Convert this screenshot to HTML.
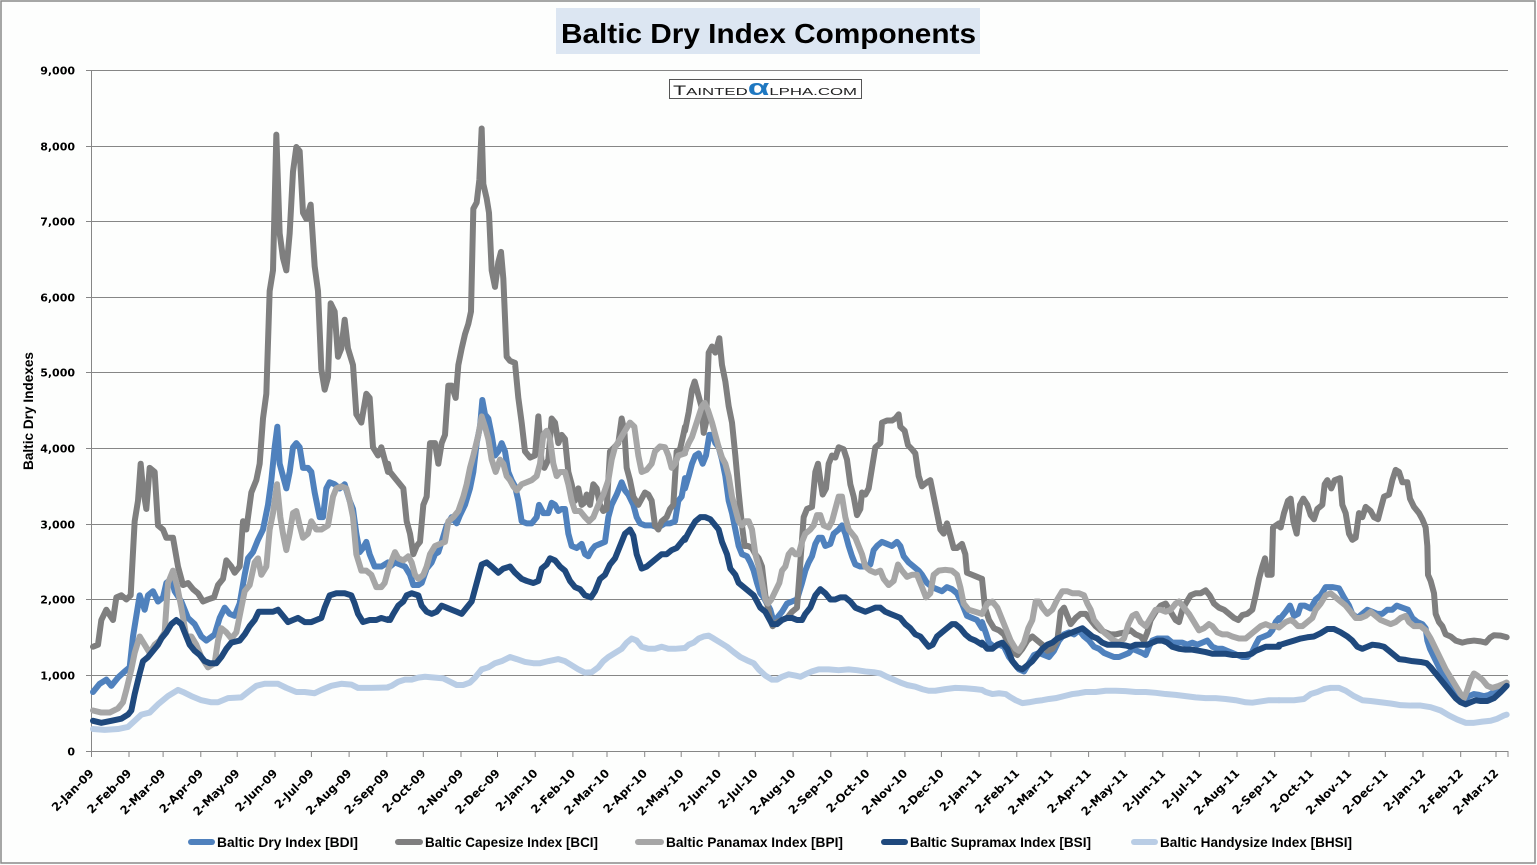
<!DOCTYPE html>
<html>
<head>
<meta charset="utf-8">
<style>
html,body{margin:0;padding:0;background:#fff;}
svg{display:block;}
.tk{font-family:"DejaVu Sans",sans-serif;font-weight:bold;font-size:11.5px;fill:#000;}
.yl{font-family:"DejaVu Sans",sans-serif;font-weight:bold;font-size:11px;fill:#000;}
.lg{font-family:"Liberation Sans",sans-serif;font-weight:bold;font-size:14px;fill:#000;}
.s polyline{fill:none;stroke-width:6;stroke-linejoin:round;stroke-linecap:round;vector-effect:non-scaling-stroke;}
</style>
</head>
<body>
<svg width="1537" height="865" viewBox="0 0 1537 865" xmlns="http://www.w3.org/2000/svg">
<rect x="0" y="0" width="1537" height="865" fill="#fdfefd"/>
<rect x="1" y="1" width="1534" height="862" fill="none" stroke="#8a8a8a" stroke-width="1.5"/>

<!-- Title -->
<rect x="556" y="8" width="424" height="46" fill="#dce6f2"/>
<text x="561" y="43" font-family="Liberation Sans, sans-serif" font-weight="bold" font-size="28" textLength="415" lengthAdjust="spacingAndGlyphs" fill="#000">Baltic Dry Index Components</text>

<!-- gridlines -->
<g stroke="#868686" stroke-width="1">
<line x1="91" y1="70.5" x2="1508" y2="70.5"/>
<line x1="91" y1="146.5" x2="1508" y2="146.5"/>
<line x1="91" y1="221.5" x2="1508" y2="221.5"/>
<line x1="91" y1="297.5" x2="1508" y2="297.5"/>
<line x1="91" y1="372.5" x2="1508" y2="372.5"/>
<line x1="91" y1="448.5" x2="1508" y2="448.5"/>
<line x1="91" y1="524.5" x2="1508" y2="524.5"/>
<line x1="91" y1="599.5" x2="1508" y2="599.5"/>
<line x1="91" y1="675.5" x2="1508" y2="675.5"/>
<line x1="91" y1="751.5" x2="1508" y2="751.5"/>
<line x1="91.5" y1="70" x2="91.5" y2="752"/>
<line x1="86" y1="70.5" x2="91" y2="70.5"/>
<line x1="86" y1="146.5" x2="91" y2="146.5"/>
<line x1="86" y1="221.5" x2="91" y2="221.5"/>
<line x1="86" y1="297.5" x2="91" y2="297.5"/>
<line x1="86" y1="372.5" x2="91" y2="372.5"/>
<line x1="86" y1="448.5" x2="91" y2="448.5"/>
<line x1="86" y1="524.5" x2="91" y2="524.5"/>
<line x1="86" y1="599.5" x2="91" y2="599.5"/>
<line x1="86" y1="675.5" x2="91" y2="675.5"/>
<line x1="86" y1="751.5" x2="91" y2="751.5"/>
</g>
<g stroke="#868686" stroke-width="1">
<line x1="91.5" y1="751" x2="91.5" y2="757"/>
<line x1="129" y1="751" x2="129" y2="757"/>
<line x1="163.1" y1="751" x2="163.1" y2="757"/>
<line x1="200.8" y1="751" x2="200.8" y2="757"/>
<line x1="237.2" y1="751" x2="237.2" y2="757"/>
<line x1="275" y1="751" x2="275" y2="757"/>
<line x1="311.4" y1="751" x2="311.4" y2="757"/>
<line x1="349.1" y1="751" x2="349.1" y2="757"/>
<line x1="386.8" y1="751" x2="386.8" y2="757"/>
<line x1="423.3" y1="751" x2="423.3" y2="757"/>
<line x1="461" y1="751" x2="461" y2="757"/>
<line x1="497.5" y1="751" x2="497.5" y2="757"/>
<line x1="535.2" y1="751" x2="535.2" y2="757"/>
<line x1="572.9" y1="751" x2="572.9" y2="757"/>
<line x1="607" y1="751" x2="607" y2="757"/>
<line x1="644.7" y1="751" x2="644.7" y2="757"/>
<line x1="681.2" y1="751" x2="681.2" y2="757"/>
<line x1="718.9" y1="751" x2="718.9" y2="757"/>
<line x1="755.3" y1="751" x2="755.3" y2="757"/>
<line x1="793.1" y1="751" x2="793.1" y2="757"/>
<line x1="830.8" y1="751" x2="830.8" y2="757"/>
<line x1="867.2" y1="751" x2="867.2" y2="757"/>
<line x1="904.9" y1="751" x2="904.9" y2="757"/>
<line x1="941.4" y1="751" x2="941.4" y2="757"/>
<line x1="979.1" y1="751" x2="979.1" y2="757"/>
<line x1="1016.8" y1="751" x2="1016.8" y2="757"/>
<line x1="1050.9" y1="751" x2="1050.9" y2="757"/>
<line x1="1088.6" y1="751" x2="1088.6" y2="757"/>
<line x1="1125.1" y1="751" x2="1125.1" y2="757"/>
<line x1="1162.8" y1="751" x2="1162.8" y2="757"/>
<line x1="1199.3" y1="751" x2="1199.3" y2="757"/>
<line x1="1237" y1="751" x2="1237" y2="757"/>
<line x1="1274.7" y1="751" x2="1274.7" y2="757"/>
<line x1="1311.1" y1="751" x2="1311.1" y2="757"/>
<line x1="1348.9" y1="751" x2="1348.9" y2="757"/>
<line x1="1385.3" y1="751" x2="1385.3" y2="757"/>
<line x1="1423" y1="751" x2="1423" y2="757"/>
<line x1="1460.7" y1="751" x2="1460.7" y2="757"/>
<line x1="1496" y1="751" x2="1496" y2="757"/>
<line x1="1508" y1="751" x2="1508" y2="757"/>
</g>

<!-- y labels -->
<g class="yl" text-anchor="end">
<text x="75" y="74.5">9,000</text>
<text x="75" y="150.5">8,000</text>
<text x="75" y="225.5">7,000</text>
<text x="75" y="301.5">6,000</text>
<text x="75" y="376.5">5,000</text>
<text x="75" y="452.5">4,000</text>
<text x="75" y="528.5">3,000</text>
<text x="75" y="603.5">2,000</text>
<text x="75" y="679.5">1,000</text>
<text x="75" y="755.5">0</text>
</g>
<text transform="translate(33,470) rotate(-90)" font-family="Liberation Sans, sans-serif" font-weight="bold" font-size="14" textLength="118" lengthAdjust="spacingAndGlyphs" fill="#000">Baltic Dry Indexes</text>

<!-- x labels -->
<g class="tk" text-anchor="end">
<text transform="translate(94.5,774) rotate(-45)">2-Jan-09</text>
<text transform="translate(132.2,774) rotate(-45)">2-Feb-09</text>
<text transform="translate(166.3,774) rotate(-45)">2-Mar-09</text>
<text transform="translate(204,774) rotate(-45)">2-Apr-09</text>
<text transform="translate(240.4,774) rotate(-45)">2-May-09</text>
<text transform="translate(278.2,774) rotate(-45)">2-Jun-09</text>
<text transform="translate(314.6,774) rotate(-45)">2-Jul-09</text>
<text transform="translate(352.3,774) rotate(-45)">2-Aug-09</text>
<text transform="translate(390,774) rotate(-45)">2-Sep-09</text>
<text transform="translate(426.5,774) rotate(-45)">2-Oct-09</text>
<text transform="translate(464.2,774) rotate(-45)">2-Nov-09</text>
<text transform="translate(500.7,774) rotate(-45)">2-Dec-09</text>
<text transform="translate(538.4,774) rotate(-45)">2-Jan-10</text>
<text transform="translate(576.1,774) rotate(-45)">2-Feb-10</text>
<text transform="translate(610.2,774) rotate(-45)">2-Mar-10</text>
<text transform="translate(647.9,774) rotate(-45)">2-Apr-10</text>
<text transform="translate(684.4,774) rotate(-45)">2-May-10</text>
<text transform="translate(722.1,774) rotate(-45)">2-Jun-10</text>
<text transform="translate(758.5,774) rotate(-45)">2-Jul-10</text>
<text transform="translate(796.3,774) rotate(-45)">2-Aug-10</text>
<text transform="translate(834,774) rotate(-45)">2-Sep-10</text>
<text transform="translate(870.4,774) rotate(-45)">2-Oct-10</text>
<text transform="translate(908.1,774) rotate(-45)">2-Nov-10</text>
<text transform="translate(944.6,774) rotate(-45)">2-Dec-10</text>
<text transform="translate(982.3,774) rotate(-45)">2-Jan-11</text>
<text transform="translate(1020,774) rotate(-45)">2-Feb-11</text>
<text transform="translate(1054.1,774) rotate(-45)">2-Mar-11</text>
<text transform="translate(1091.8,774) rotate(-45)">2-Apr-11</text>
<text transform="translate(1128.3,774) rotate(-45)">2-May-11</text>
<text transform="translate(1166,774) rotate(-45)">2-Jun-11</text>
<text transform="translate(1202.5,774) rotate(-45)">2-Jul-11</text>
<text transform="translate(1240.2,774) rotate(-45)">2-Aug-11</text>
<text transform="translate(1277.9,774) rotate(-45)">2-Sep-11</text>
<text transform="translate(1314.3,774) rotate(-45)">2-Oct-11</text>
<text transform="translate(1352.1,774) rotate(-45)">2-Nov-11</text>
<text transform="translate(1388.5,774) rotate(-45)">2-Dec-11</text>
<text transform="translate(1426.2,774) rotate(-45)">2-Jan-12</text>
<text transform="translate(1463.9,774) rotate(-45)">2-Feb-12</text>
<text transform="translate(1499.2,774) rotate(-45)">2-Mar-12</text>
</g>

<!-- watermark -->
<rect x="669.5" y="79.5" width="192" height="19" fill="#fff" stroke="#555" stroke-width="1"/>
<text x="673" y="95" font-family="Liberation Sans, sans-serif" fill="#222" textLength="184" lengthAdjust="spacingAndGlyphs"><tspan font-size="13.5">T</tspan><tspan font-size="10.5">AINTED</tspan><tspan font-size="22" font-weight="bold" fill="#1f78c1">α</tspan><tspan font-size="10.5">LPHA.COM</tspan></text>

<!-- BDI -->
<g class="s" stroke="#4f81bd">
<g transform="translate(88,110) scale(0.33333,0.4113)"><polyline points="15,1415 35,1395 55,1385 70,1400 90,1380 110,1365 125,1355 135,1280 145,1230 155,1180 170,1215 180,1180 195,1170 210,1195 225,1185 235,1150 250,1140 260,1170 280,1195 300,1235 320,1250 340,1280 355,1290 380,1275 395,1235 410,1210 425,1225 440,1230 455,1200 470,1130 480,1090 495,1075 510,1045 525,1020 540,960 550,900 560,820 568,770 575,860 585,890 595,920 605,880 615,820 625,810 635,820 645,870 660,870 670,880 680,930 695,990 705,990 715,920 725,905 740,910 755,920 770,910 785,950 795,970 805,1030 815,1075 825,1065 835,1050 845,1080 860,1110 880,1110 900,1100"/></g>
<g transform="translate(385,110) scale(0.33333,0.4113)"><polyline points="9,1105 15,1110 30,1100 45,1105 60,1110 75,1130 85,1155 100,1155 110,1150 125,1115 140,1100 150,1080 160,1075 170,1050 185,1010 200,990 215,1005 225,985 240,960 255,920 265,880 275,810 285,770 292,705 300,740 310,750 320,790 330,840 340,830 350,810 360,830 370,880 380,900 390,915 400,950 410,1000 425,1005 440,1005 455,990 462,960 475,980 490,980 500,955 510,960 520,975 530,970 540,970 550,1030 560,1060 575,1065 590,1055 600,1080 610,1085 620,1070 630,1060 645,1055 660,1050 670,990 680,960 695,935 710,905 720,925 730,935 745,960 755,990 765,1005 780,1010 800,1010 820,1015 840,1005 855,1005 870,1000 880,950 890,940 900,895"/></g>
<g transform="translate(682,110) scale(0.33333,0.4113)"><polyline points="9,920 20,890 30,860 40,840 50,835 62,860 72,840 82,790 92,790 100,810 110,820 120,850 130,890 140,950 150,980 160,1020 170,1060 180,1080 195,1085 205,1100 215,1120 225,1150 235,1175 245,1185 255,1200 265,1215 275,1245 285,1235 300,1220 315,1200 330,1195 345,1190 360,1150 370,1120 380,1100 390,1085 400,1055 410,1040 420,1040 430,1060 445,1055 455,1030 470,1020 480,1010 490,1030 500,1060 510,1085 520,1105 535,1110 550,1110 565,1105 575,1070 585,1060 600,1050 615,1055 630,1060 645,1050 655,1060 665,1085 680,1100 695,1110 710,1120 720,1130 735,1150 750,1160 765,1165 780,1170 795,1160 810,1165 825,1175 840,1200 855,1230 870,1235 885,1240 900,1260"/></g>
<g transform="translate(979,110) scale(0.33333,0.4113)"><polyline points="9,1245 20,1270 30,1295 45,1305 60,1300 75,1305 90,1330 105,1345 120,1360 135,1365 150,1345 165,1325 180,1320 195,1325 210,1330 225,1315 240,1290 255,1275 270,1270 285,1275 300,1265 315,1280 330,1290 345,1305 360,1310 375,1320 390,1325 405,1330 420,1330 435,1325 450,1320 460,1310 475,1315 490,1320 500,1325 510,1305 520,1290 535,1285 550,1285 565,1285 580,1295 595,1295 610,1295 625,1300 640,1295 655,1300 670,1295 685,1290 700,1305 715,1310 730,1310 745,1315 760,1320 775,1325 790,1330 805,1330 818,1320 830,1300 840,1285 855,1280 870,1275 880,1265 890,1245 900,1235"/></g>
<g transform="translate(1274,110) scale(0.33333,0.4113)"><polyline points="15,1240 20,1235 35,1220 48,1205 60,1230 72,1225 80,1205 92,1205 110,1212 125,1190 140,1180 155,1160 175,1160 195,1163 210,1185 225,1205 235,1225 250,1235 265,1225 280,1215 295,1220 310,1225 325,1225 340,1215 355,1215 368,1205 385,1210 402,1215 415,1235 430,1245 445,1250 455,1260 460,1290 468,1310 480,1330 495,1355 510,1380 525,1400 540,1420 555,1430 568,1435 585,1425 600,1420 615,1422 630,1425 645,1422 660,1415 680,1405 698,1398"/></g>
</g>

<!-- BCI -->
<g class="s" stroke="#7f7f7f">
<g transform="translate(88,110) scale(0.33333,0.4113)"><polyline points="15,1305 30,1300 40,1240 55,1215 75,1240 85,1185 100,1180 115,1190 128,1180 140,1000 150,950 158,860 165,920 175,970 185,870 200,880 210,1010 225,1020 235,1040 255,1040 270,1110 285,1155 300,1150 315,1165 330,1175 345,1195 360,1190 378,1185 390,1155 405,1140 415,1095 430,1110 440,1125 455,1110 465,1000 475,1020 490,930 505,900 515,860 525,750 535,690 545,440 555,390 565,60 575,300 585,360 595,390 605,300 615,150 625,90 635,100 645,250 655,265 668,230 680,380 690,440 700,630 710,680 720,650 728,470 740,490 750,600 760,580 770,510 780,580 795,620 805,740 820,760 835,690 845,700 855,820 870,840 880,820 900,880"/></g>
<g transform="translate(385,110) scale(0.33333,0.4113)"><polyline points="9,860 15,880 30,895 45,910 55,920 65,1000 75,1030 85,1080 95,1060 105,1050 115,960 125,940 135,810 150,810 160,860 170,810 180,790 190,670 200,670 212,700 220,620 230,580 240,545 250,520 258,490 265,240 275,225 283,170 290,45 295,180 305,215 312,250 320,390 330,430 340,370 348,345 355,410 365,600 375,610 390,615 400,700 410,760 420,830 435,845 450,840 460,745 470,860 478,870 490,850 500,750 510,760 520,810 530,790 540,800 550,880 560,910 570,950 580,920 590,960 598,955 605,935 615,960 625,910 635,920 645,960 655,975 665,970 675,830 688,820 700,810 710,750 718,780 725,870 735,900 745,940 760,960 770,945 780,930 790,935 800,950 810,1010 820,1020 830,1000 845,990 855,970 865,960 875,830 885,825 895,790 900,770"/></g>
<g transform="translate(682,110) scale(0.33333,0.4113)"><polyline points="9,780 20,735 30,680 38,660 48,690 58,720 65,785 72,760 80,590 90,575 100,590 112,555 120,620 130,660 140,720 150,760 160,840 170,930 180,1010 188,1060 198,1060 210,1065 220,1080 230,1090 240,1110 250,1180 258,1210 265,1240 272,1255 285,1245 300,1240 315,1235 330,1220 345,1210 355,1100 365,990 375,970 390,965 400,880 408,860 415,900 422,935 432,920 440,860 450,840 460,845 470,820 485,825 495,850 505,910 515,940 525,985 535,970 540,930 550,935 560,920 570,870 580,820 595,810 600,760 615,755 630,755 640,750 650,740 655,770 668,780 678,815 690,825 700,835 710,890 720,915 735,905 745,900 755,940 765,980 775,1020 785,1030 795,1005 805,1035 815,1065 825,1065 840,1055 850,1080 855,1125 870,1130 885,1135 900,1140"/></g>
<g transform="translate(979,110) scale(0.33333,0.4113)"><polyline points="9,1140 18,1210 30,1240 45,1260 60,1265 75,1275 90,1300 105,1320 115,1325 130,1310 145,1290 160,1280 175,1290 190,1300 205,1315 220,1310 235,1290 245,1220 255,1210 265,1230 275,1250 290,1235 305,1225 320,1225 335,1240 350,1255 365,1265 380,1270 395,1275 410,1275 425,1272 440,1270 455,1265 470,1275 485,1280 495,1290 505,1270 515,1240 530,1220 545,1205 560,1200 575,1220 590,1240 600,1245 610,1215 620,1200 635,1180 650,1175 665,1175 680,1168 692,1180 705,1200 720,1210 735,1215 750,1225 765,1235 778,1240 790,1228 805,1225 820,1215 830,1180 840,1140 850,1110 858,1090 866,1130 878,1130 882,1015 900,1005"/></g>
<g transform="translate(1274,110) scale(0.33333,0.4113)"><polyline points="15,1012 20,1015 30,980 42,950 50,945 58,1000 68,1030 78,960 88,945 100,960 110,985 120,995 130,970 145,960 152,910 160,900 172,920 182,900 198,895 205,960 215,980 225,1030 235,1045 245,1040 255,980 265,990 275,965 290,975 300,990 312,995 320,970 330,940 345,935 355,900 365,875 375,880 385,905 400,905 408,945 420,965 435,980 445,995 455,1015 460,1060 462,1130 470,1145 480,1175 485,1225 495,1245 505,1255 515,1275 530,1280 545,1290 565,1295 580,1292 600,1290 620,1292 635,1295 648,1283 660,1277 680,1278 698,1282"/></g>
</g>

<!-- BPI -->
<g class="s" stroke="#a6a6a6">
<g transform="translate(88,110) scale(0.33333,0.4113)"><polyline points="15,1460 40,1465 65,1465 90,1455 105,1440 115,1410 130,1360 140,1320 155,1280 170,1300 185,1320 200,1300 215,1290 230,1270 240,1150 255,1120 268,1160 280,1210 295,1280 310,1280 325,1300 340,1330 360,1355 380,1345 390,1290 400,1260 415,1270 430,1285 445,1270 460,1210 470,1170 485,1155 500,1100 510,1090 520,1130 535,1110 545,1020 555,980 567,910 577,990 585,1030 595,1070 605,1030 615,980 625,975 635,1010 645,1040 660,1030 670,1000 685,1020 700,1020 720,1010 735,940 745,920 760,915 775,920 785,950 795,990 805,1080 820,1120 835,1120 850,1130 865,1160 880,1160 890,1150 900,1120"/></g>
<g transform="translate(385,110) scale(0.33333,0.4113)"><polyline points="9,1120 20,1095 30,1075 40,1090 55,1095 70,1085 80,1100 90,1130 100,1140 115,1130 125,1110 135,1080 150,1060 165,1055 180,1050 190,1000 205,990 220,975 235,940 245,910 255,870 265,840 280,790 290,745 300,770 310,800 320,850 332,880 345,850 355,860 365,890 375,900 385,915 395,925 410,910 425,905 440,900 455,890 465,860 475,790 485,780 495,800 505,860 515,890 525,880 540,880 550,910 560,950 570,975 585,975 600,990 612,1000 625,990 640,960 655,935 670,900 680,850 690,820 705,800 720,780 735,760 748,770 760,840 770,880 785,875 800,860 810,830 825,818 840,820 850,840 860,870 870,860 880,840 900,835"/></g>
<g transform="translate(682,110) scale(0.33333,0.4113)"><polyline points="9,832 20,810 30,795 40,770 50,745 60,720 68,712 78,730 90,760 100,790 110,820 120,845 130,860 140,890 150,940 160,970 170,1000 180,1010 190,1000 200,1000 210,1020 220,1080 230,1110 240,1150 250,1190 258,1200 268,1190 280,1170 292,1150 300,1120 310,1110 320,1080 330,1070 340,1080 350,1080 360,1050 370,1030 385,1020 395,1010 405,985 415,985 425,1010 440,1015 450,1000 460,970 470,940 480,940 490,990 500,1020 510,1030 520,1040 530,1060 540,1080 550,1110 565,1120 580,1125 595,1120 605,1140 620,1155 635,1145 648,1105 660,1120 675,1135 690,1130 705,1130 720,1160 732,1185 745,1175 755,1130 770,1120 790,1118 810,1120 825,1130 835,1160 845,1200 860,1215 880,1220 900,1225"/></g>
<g transform="translate(979,110) scale(0.33333,0.4113)"><polyline points="9,1225 25,1200 40,1195 55,1210 65,1230 75,1250 85,1270 95,1290 110,1310 120,1315 135,1295 148,1260 160,1240 170,1195 180,1195 190,1210 205,1225 220,1215 235,1190 250,1170 265,1170 280,1175 300,1175 315,1180 325,1200 335,1215 345,1240 360,1255 375,1270 390,1280 405,1290 420,1295 435,1285 448,1250 460,1230 472,1225 485,1245 500,1255 515,1235 530,1215 545,1215 560,1220 575,1215 590,1200 600,1195 615,1210 630,1225 645,1245 660,1265 675,1260 690,1250 700,1255 715,1270 730,1275 745,1275 760,1280 780,1285 800,1285 815,1275 830,1265 845,1255 860,1250 875,1255 890,1255 900,1258"/></g>
<g transform="translate(1274,110) scale(0.33333,0.4113)"><polyline points="15,1258 20,1255 35,1245 50,1240 60,1245 72,1255 85,1255 100,1245 115,1235 125,1215 140,1200 155,1180 170,1175 185,1185 200,1195 215,1205 230,1220 245,1235 260,1235 275,1230 290,1220 305,1230 320,1240 335,1245 350,1250 365,1245 380,1235 395,1230 405,1245 420,1255 440,1255 455,1265 470,1285 485,1310 500,1335 515,1360 530,1380 545,1400 560,1420 570,1430 580,1410 590,1385 600,1370 610,1375 625,1385 640,1400 655,1405 675,1400 690,1395 698,1392"/></g>
</g>

<!-- BSI -->
<g class="s" stroke="#1f497d">
<g transform="translate(88,110) scale(0.33333,0.4113)"><polyline points="15,1485 40,1490 70,1485 100,1480 120,1470 130,1460 140,1420 155,1370 165,1340 180,1330 195,1315 210,1300 220,1285 235,1270 250,1250 265,1240 280,1250 290,1270 305,1300 320,1315 335,1325 350,1340 365,1345 385,1345 400,1330 415,1310 430,1295 455,1290 470,1275 485,1255 500,1240 512,1220 530,1220 555,1220 570,1215 585,1230 600,1245 615,1240 630,1235 650,1245 670,1245 685,1240 700,1235 710,1210 725,1180 745,1175 770,1175 790,1180 800,1200 810,1225 825,1245 845,1240 865,1240 880,1235 900,1240"/></g>
<g transform="translate(385,110) scale(0.33333,0.4113)"><polyline points="9,1238 15,1240 25,1225 40,1205 55,1195 65,1180 80,1175 100,1180 110,1205 125,1220 140,1225 155,1220 170,1205 185,1210 200,1215 215,1220 230,1225 245,1210 260,1195 275,1150 290,1105 305,1100 320,1110 340,1125 355,1115 375,1110 390,1125 410,1140 425,1145 445,1150 460,1145 470,1115 485,1105 495,1090 510,1095 525,1110 540,1120 555,1145 570,1160 585,1165 600,1180 618,1185 630,1170 645,1140 660,1130 675,1105 690,1090 705,1060 720,1030 735,1020 745,1035 755,1080 770,1115 785,1110 800,1100 815,1090 830,1080 845,1080 860,1070 875,1065 890,1050 900,1040"/></g>
<g transform="translate(682,110) scale(0.33333,0.4113)"><polyline points="9,1045 15,1035 25,1020 40,1000 55,990 70,990 85,995 95,1005 110,1020 120,1050 135,1080 145,1115 160,1130 170,1150 185,1160 200,1170 215,1180 225,1195 235,1210 250,1220 260,1235 270,1250 285,1250 300,1240 315,1235 330,1235 345,1240 360,1240 370,1225 385,1210 400,1180 415,1165 430,1175 445,1190 460,1190 475,1185 490,1185 505,1195 520,1210 535,1215 550,1220 565,1215 580,1210 595,1210 610,1220 625,1225 640,1230 655,1235 670,1250 685,1260 700,1275 715,1280 725,1290 740,1305 752,1300 765,1280 780,1270 795,1260 810,1250 820,1250 835,1260 850,1275 865,1285 880,1290 900,1300"/></g>
<g transform="translate(979,110) scale(0.33333,0.4113)"><polyline points="9,1295 25,1310 40,1310 55,1300 70,1295 85,1310 100,1340 115,1355 130,1360 145,1350 160,1340 175,1325 190,1310 205,1300 220,1295 235,1285 250,1280 265,1275 280,1270 295,1265 310,1260 325,1270 340,1280 355,1285 370,1295 385,1300 400,1300 420,1300 440,1302 455,1305 470,1300 490,1300 505,1300 520,1295 535,1290 550,1290 565,1295 580,1305 600,1310 620,1312 640,1312 660,1315 680,1318 700,1322 720,1322 740,1322 760,1325 780,1325 800,1325 818,1322 830,1315 845,1310 860,1305 880,1305 900,1305"/></g>
<g transform="translate(1274,110) scale(0.33333,0.4113)"><polyline points="15,1300 20,1300 40,1295 60,1290 80,1285 100,1282 120,1280 140,1272 160,1262 180,1262 200,1270 220,1280 235,1290 250,1305 265,1310 280,1305 295,1300 315,1302 330,1305 345,1315 360,1325 375,1335 395,1337 415,1340 440,1342 458,1345 470,1355 485,1370 500,1385 515,1400 530,1415 545,1430 560,1440 575,1445 590,1440 605,1435 620,1437 640,1437 660,1430 680,1415 698,1400"/></g>
</g>

<!-- BHSI -->
<g class="s" stroke="#b9cde5">
<g transform="translate(88,110) scale(0.33333,0.4113)"><polyline points="15,1505 50,1507 90,1505 120,1500 140,1485 160,1470 185,1465 210,1445 240,1425 270,1410 285,1415 310,1425 340,1435 370,1440 390,1440 420,1430 460,1428 480,1415 505,1400 530,1395 570,1395 595,1405 625,1415 650,1415 680,1418 700,1410 730,1400 760,1395 790,1397 810,1405 850,1405 900,1404"/></g>
<g transform="translate(385,110) scale(0.33333,0.4113)"><polyline points="9,1403 20,1400 40,1390 60,1385 80,1385 100,1380 120,1378 150,1380 175,1382 195,1390 215,1398 235,1398 255,1392 270,1380 290,1360 310,1355 330,1345 350,1340 375,1330 395,1335 420,1342 445,1345 465,1345 490,1340 520,1335 540,1340 560,1350 580,1360 600,1368 620,1367 640,1355 655,1340 670,1330 690,1320 710,1310 725,1295 740,1285 755,1290 770,1305 790,1310 810,1310 830,1305 850,1310 870,1310 900,1308"/></g>
<g transform="translate(682,110) scale(0.33333,0.4113)"><polyline points="9,1308 20,1300 35,1295 50,1285 65,1280 80,1278 95,1285 115,1295 135,1305 155,1318 175,1330 195,1338 215,1345 230,1360 250,1375 270,1385 285,1385 300,1378 320,1372 340,1375 355,1378 370,1372 390,1365 410,1360 440,1360 470,1362 500,1360 525,1362 550,1365 575,1367 595,1370 615,1378 635,1385 655,1392 675,1398 700,1402 720,1408 740,1412 760,1412 790,1408 820,1405 850,1406 880,1408 900,1410"/></g>
<g transform="translate(979,110) scale(0.33333,0.4113)"><polyline points="9,1410 20,1415 40,1420 60,1418 80,1420 95,1428 110,1435 130,1442 150,1440 170,1437 190,1435 210,1432 230,1430 255,1425 280,1420 300,1418 320,1415 350,1415 380,1412 410,1412 440,1413 470,1415 500,1415 530,1417 560,1420 590,1422 620,1425 650,1428 680,1430 710,1430 740,1432 770,1435 800,1440 820,1441 845,1438 870,1435 900,1435"/></g>
<g transform="translate(1274,110) scale(0.33333,0.4113)"><polyline points="15,1435 30,1435 60,1435 90,1432 110,1420 130,1415 150,1408 170,1405 195,1405 215,1412 240,1425 265,1435 290,1437 320,1440 350,1443 380,1447 410,1448 440,1448 470,1452 500,1460 525,1472 550,1482 575,1490 600,1490 625,1487 650,1485 670,1480 690,1472 698,1470"/></g>
</g>

<!-- Legend -->
<g stroke-width="6" stroke-linecap="round">
<line x1="191" y1="842" x2="212" y2="842" stroke="#4f81bd"/>
<line x1="398" y1="842" x2="420" y2="842" stroke="#7f7f7f"/>
<line x1="638" y1="842" x2="661" y2="842" stroke="#a6a6a6"/>
<line x1="884" y1="842" x2="905" y2="842" stroke="#1f497d"/>
<line x1="1134" y1="842" x2="1155" y2="842" stroke="#b9cde5"/>
</g>
<g class="lg">
<text x="217" y="847" textLength="141" lengthAdjust="spacingAndGlyphs">Baltic Dry Index [BDI]</text>
<text x="425" y="847" textLength="173" lengthAdjust="spacingAndGlyphs">Baltic Capesize Index [BCI]</text>
<text x="666" y="847" textLength="177" lengthAdjust="spacingAndGlyphs">Baltic Panamax Index [BPI]</text>
<text x="910" y="847" textLength="181" lengthAdjust="spacingAndGlyphs">Baltic Supramax Index [BSI]</text>
<text x="1160" y="847" textLength="192" lengthAdjust="spacingAndGlyphs">Baltic Handysize Index [BHSI]</text>
</g>
</svg>
</body>
</html>
